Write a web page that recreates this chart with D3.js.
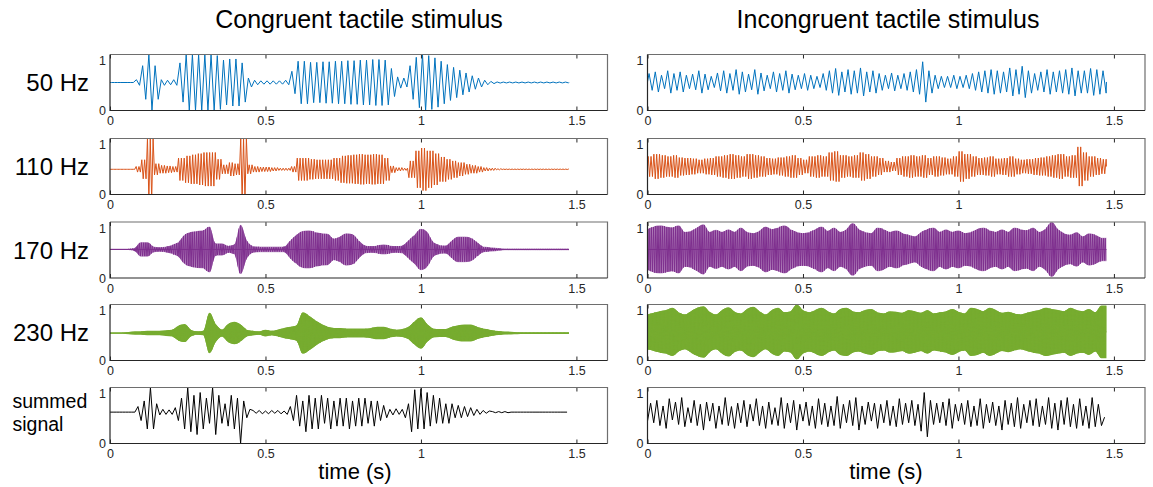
<!DOCTYPE html>
<html>
<head>
<meta charset="utf-8">
<script src="https://cdn.jsdelivr.net/npm/d3@7"></script>
<style>
  body { margin: 0; background: #fff; }
  text { font-family: "Liberation Sans", Arial, sans-serif; }
</style>
</head>
<body>
<div id="chart"></div>
<script>
// ---- data ----
var columnTitles = ["Congruent tactile stimulus", "Incongruent tactile stimulus"];
var rowLabels = ["50 Hz", "110 Hz", "170 Hz", "230 Hz", "summed signal"];
var carrierHz = [50, 110, 170, 230];
var xTicks = [0, 0.5, 1, 1.5];
var yTicks = [0, 1];
var envStep = 0.02;     // envelope samples every 20 ms
var peakStep = 0.01;    // summed signal peaks every 10 ms
var signalEnd = 1.476;

// resting level of each trace
var congBase = [0.5, 0.45, 0.51, 0.49, 0.56];
var incBase = [0.51, 0.5, 0.51, 0.51, 0.52];

// envelope (half peak-to-peak) at t = 0, 0.02, ... 1.46
var cong50 = [0,0,0,0,0.05,0.3,0.5,0.3,0.05,0.04,
  0.05,0.35,0.5,0.5,0.5,0.5,0.5,0.48,0.4,0.42,
  0.42,0.35,0.08,0.04,0.03,0.03,0.03,0.03,0.04,0.2,
  0.38,0.38,0.36,0.36,0.37,0.37,0.38,0.38,0.39,0.39,
  0.4,0.4,0.41,0.41,0.4,0.25,0.1,0.08,0.3,0.45,
  0.5,0.48,0.44,0.38,0.32,0.27,0.22,0.17,0.12,0.08,
  0.04,0.02,0.01,0.008,0.008,0.008,0.008,0.008,0.008,0.008,
  0.008,0.008,0.008,0.008];
var cong110 = [0,0,0,0,0.05,0.17,0.55,0.1,0.07,0.06,
  0.05,0.2,0.24,0.26,0.28,0.3,0.3,0.18,0.08,0.12,
  0.1,0.55,0.08,0.05,0.04,0.04,0.03,0.02,0.02,0.05,
  0.2,0.2,0.18,0.17,0.17,0.17,0.2,0.24,0.25,0.26,
  0.27,0.26,0.27,0.26,0.2,0.06,0.03,0.02,0.15,0.33,
  0.38,0.33,0.28,0.22,0.18,0.15,0.12,0.09,0.07,0.05,
  0.03,0.02,0.01,0.004,0.004,0.004,0.004,0.004,0.004,0.004,
  0.004,0.004,0.004,0.004];
var cong170 = [0,0,0,0,0.02,0.12,0.12,0.04,0.03,0.04,
  0.07,0.12,0.25,0.3,0.32,0.33,0.4,0.1,0.1,0.05,
  0.08,0.43,0.15,0.05,0.04,0.04,0.04,0.04,0.04,0.15,
  0.25,0.32,0.33,0.3,0.28,0.27,0.18,0.22,0.28,0.26,
  0.15,0.06,0.05,0.06,0.08,0.06,0.05,0.06,0.15,0.25,
  0.36,0.3,0.12,0.07,0.06,0.15,0.22,0.22,0.2,0.12,
  0.04,0.03,0.02,0.01,0.004,0.004,0.004,0.004,0.004,0.004,
  0.004,0.004,0.004,0.004];
var cong230 = [0,0,0,0.01,0.02,0.02,0.03,0.03,0.03,0.04,
  0.05,0.12,0.15,0.05,0.02,0.03,0.35,0.15,0.05,0.15,
  0.19,0.14,0.05,0.03,0.02,0.05,0.03,0.05,0.08,0.1,
  0.13,0.36,0.3,0.22,0.15,0.1,0.08,0.08,0.07,0.07,
  0.07,0.07,0.08,0.1,0.1,0.07,0.05,0.06,0.1,0.2,
  0.27,0.15,0.07,0.06,0.06,0.1,0.13,0.14,0.14,0.1,
  0.07,0.05,0.03,0.02,0.015,0.01,0.004,0.004,0.004,0.004,
  0.004,0.004,0.004,0.004];

var inc50 = [0.15,0.18,0.12,0.2,0.15,0.18,0.12,0.14,0.2,0.14,
  0.1,0.16,0.2,0.15,0.22,0.18,0.14,0.22,0.16,0.12,
  0.18,0.15,0.2,0.14,0.12,0.15,0.12,0.1,0.15,0.2,
  0.24,0.18,0.22,0.2,0.25,0.18,0.2,0.15,0.12,0.16,
  0.12,0.15,0.18,0.22,0.36,0.2,0.12,0.1,0.1,0.12,
  0.1,0.12,0.15,0.18,0.2,0.22,0.2,0.18,0.25,0.22,
  0.28,0.2,0.15,0.18,0.22,0.18,0.2,0.22,0.25,0.2,
  0.2,0.24,0.22,0.2];
var inc110 = [0.18,0.22,0.2,0.18,0.2,0.16,0.15,0.14,0.12,0.14,
  0.15,0.18,0.2,0.22,0.2,0.18,0.22,0.2,0.18,0.15,
  0.14,0.16,0.18,0.2,0.15,0.12,0.18,0.2,0.18,0.25,
  0.27,0.2,0.18,0.2,0.25,0.22,0.18,0.15,0.1,0.08,
  0.15,0.18,0.2,0.18,0.2,0.15,0.18,0.16,0.14,0.18,
  0.27,0.22,0.18,0.15,0.16,0.18,0.14,0.15,0.18,0.14,
  0.12,0.13,0.15,0.16,0.18,0.2,0.22,0.18,0.2,0.35,
  0.25,0.18,0.15,0.13];
var inc170 = [0.35,0.4,0.42,0.4,0.38,0.42,0.3,0.32,0.38,0.44,
  0.3,0.34,0.3,0.35,0.3,0.38,0.3,0.28,0.32,0.4,
  0.35,0.38,0.42,0.35,0.3,0.28,0.3,0.35,0.4,0.32,
  0.38,0.3,0.35,0.46,0.35,0.3,0.28,0.38,0.35,0.3,
  0.33,0.28,0.25,0.22,0.3,0.35,0.38,0.3,0.35,0.3,
  0.33,0.28,0.3,0.35,0.38,0.33,0.3,0.35,0.3,0.38,
  0.35,0.33,0.38,0.3,0.36,0.48,0.35,0.28,0.25,0.3,
  0.22,0.28,0.25,0.2];
var inc230 = [0.3,0.33,0.36,0.38,0.42,0.34,0.3,0.36,0.42,0.45,
  0.35,0.3,0.38,0.43,0.35,0.32,0.4,0.44,0.36,0.3,
  0.38,0.42,0.34,0.36,0.48,0.38,0.34,0.38,0.42,0.36,
  0.32,0.4,0.42,0.36,0.34,0.38,0.4,0.34,0.32,0.36,
  0.35,0.33,0.38,0.36,0.33,0.38,0.32,0.34,0.36,0.4,
  0.35,0.32,0.42,0.4,0.36,0.42,0.38,0.33,0.35,0.32,
  0.3,0.33,0.36,0.38,0.42,0.4,0.38,0.36,0.42,0.38,
  0.36,0.4,0.34,0.46];

// summed signal: signed peak deviations at t = 0, 0.01, ... 1.47
var congSum = [0,0,0,0,0,0,0,0,0,
  0.1,-0.15,0.2,-0.3,0.44,-0.3,0.15,-0.05,0.05,-0.04,0.04,-0.04,0.08,-0.15,0.25,-0.3,0.44,-0.35,0.3,-0.4,
  0.35,-0.3,0.25,-0.2,0.44,-0.4,0.3,-0.2,0.15,-0.25,0.3,-0.3,0.25,-0.56,0.2,-0.1,0.05,
  0.03,-0.02,0.03,-0.03,0.02,-0.03,0.03,-0.02,0.03,-0.03,0.02,-0.04,
  0.1,-0.15,0.3,-0.25,0.2,-0.35,0.3,-0.3,0.25,-0.3,0.3,-0.2,0.25,-0.3,0.2,-0.25,
  0.25,-0.25,0.25,-0.3,0.2,-0.25,0.25,-0.25,0.25,-0.2,0.2,-0.25,0.2,-0.15,0.12,-0.1,
  0.05,-0.05,0.06,-0.04,0.05,-0.1,0.15,-0.35,0.4,-0.3,0.42,-0.3,0.35,-0.25,0.3,-0.2,0.25,
  -0.2,0.15,-0.2,0.15,-0.1,0.12,-0.1,0.1,-0.08,0.08,-0.06,0.05,-0.04,0.03,-0.02,0.02,
  0.01,-0.01,0.01,-0.01,0.01,-0.01,
  0,0,0,0,0,0,0,0,0,0,0,0,0,0,0,0,0,0,0];
var incSum = [-0.12,0.2,-0.15,0.25,-0.2,0.15,-0.25,0.28,-0.1,0.22,-0.18,0.3,-0.22,0.12,-0.15,0.25,-0.2,0.18,-0.28,0.22,
  -0.12,0.2,-0.25,0.15,-0.18,0.3,-0.2,0.14,-0.25,0.2,-0.15,0.25,-0.22,0.18,-0.12,0.28,-0.2,0.15,-0.25,0.22,
  -0.18,0.12,-0.2,0.3,-0.25,0.2,-0.15,0.25,-0.28,0.18,-0.12,0.22,-0.2,0.15,-0.25,0.28,-0.18,0.2,-0.22,0.15,
  -0.2,0.32,-0.25,0.18,-0.15,0.25,-0.2,0.3,-0.28,0.15,-0.18,0.22,-0.12,0.2,-0.25,0.18,-0.15,0.25,-0.2,0.15,
  -0.22,0.28,-0.18,0.2,-0.15,0.25,-0.2,0.18,-0.3,0.39,-0.4,0.25,-0.18,0.2,-0.15,0.22,-0.2,0.28,-0.25,0.18,
  -0.12,0.2,-0.18,0.25,-0.22,0.15,-0.2,0.28,-0.25,0.18,-0.15,0.22,-0.2,0.15,-0.28,0.25,-0.18,0.2,-0.22,0.3,
  -0.25,0.18,-0.15,0.25,-0.2,0.28,-0.22,0.15,-0.18,0.3,-0.25,0.2,-0.28,0.25,-0.18,0.3,-0.22,0.18,-0.25,0.28,
  -0.2,0.15,-0.25,0.3,-0.22,0.18,-0.2,-0.05];

var colors = ["#0072BD", "#D95319", "#7E2F8E", "#77AC30", "#000000"];
// how solid the dense carriers look (170 Hz, 230 Hz)
var denseFill = [0, 0, 0.45, 1, 0];

// ---- layout ----
var width = 1153, height = 487;
var colLeft = [110, 647.5], panelW = 497.5;
var rowTop = [54.5, 138.5, 222, 304.5, 387.5], panelH = 56;

var svg = d3.select("#chart").append("svg")
    .attr("width", width)
    .attr("height", height);
var defs = svg.append("defs");

var x = d3.scaleLinear().domain([0, 1.6]).range([0, panelW]);
var y = d3.scaleLinear().domain([0, 1]).range([panelH, 0]);

// alternating peaks of a carrier under a stepped envelope;
// "wide" takes the larger neighbour so a smooth clip can trim it
function carrierPeaks(env, hz, wide) {
  var half = 1 / (2 * hz), pts = [[0, 0]];
  for (var k = 0; (k + 0.5) * half < signalEnd; k++) {
    var t = (k + 0.5) * half;
    var i = Math.min(Math.floor(t / envStep), env.length - 1);
    var a = wide ? Math.max(env[i], env[Math.min(i + 1, env.length - 1)]) : env[i];
    pts.push([t, k % 2 === 0 ? a : -a]);
  }
  pts.push([signalEnd, 0]);
  return pts;
}

function sumPeaks(vals) {
  return vals.map(function(v, i) { return [i * peakStep, v]; });
}

function envPoints(env) {
  var pts = env.map(function(a, i) { return [i * envStep, a]; });
  pts.push([signalEnd, env[env.length - 1]]);
  return pts;
}

var panels = [
  {col: 0, row: 0, base: congBase[0], env: cong50},
  {col: 0, row: 1, base: congBase[1], env: cong110},
  {col: 0, row: 2, base: congBase[2], env: cong170, dense: true},
  {col: 0, row: 3, base: congBase[3], env: cong230, dense: true},
  {col: 0, row: 4, base: congBase[4], peaks: congSum},
  {col: 1, row: 0, base: incBase[0], env: inc50},
  {col: 1, row: 1, base: incBase[1], env: inc110},
  {col: 1, row: 2, base: incBase[2], env: inc170, dense: true},
  {col: 1, row: 3, base: incBase[3], env: inc230, dense: true},
  {col: 1, row: 4, base: incBase[4], peaks: incSum}
];

defs.append("clipPath")
    .attr("id", "clip")
  .append("rect")
    .attr("width", panelW)
    .attr("height", panelH);

panels.forEach(function(p, n) {
  var g = svg.append("g")
      .attr("transform", "translate(" + colLeft[p.col] + "," + rowTop[p.row] + ")");

  var line = d3.line()
      .x(function(d) { return x(d[0]); })
      .y(function(d) { return y(p.base + d[1]); });

  var pts = p.peaks ? sumPeaks(p.peaks) : carrierPeaks(p.env, carrierHz[p.row], p.dense);
  var clipId = "clip";
  var holder = g;

  if (p.dense) {
    // smooth envelope outline used to trim the dense carrier
    var envArea = d3.area()
        .curve(d3.curveMonotoneX)
        .x(function(d) { return x(d[0]); })
        .y0(function(d) { return y(p.base - d[1]) + 0.6; })
        .y1(function(d) { return y(p.base + d[1]) - 0.6; });
    clipId = "env" + n;
    defs.append("clipPath")
        .attr("id", clipId)
      .append("path")
        .attr("d", envArea(envPoints(p.env)));
    holder = g.append("g").attr("clip-path", "url(#clip)");
    holder.append("path")
        .datum([[0, 0], [signalEnd, 0]])
        .attr("d", line)
        .style("fill", "none")
        .style("stroke", colors[p.row])
        .style("stroke-width", 1);
    holder.append("path")
        .datum(envPoints(p.env))
        .attr("d", envArea)
        .style("fill", colors[p.row])
        .style("fill-opacity", denseFill[p.row])
        .style("stroke", "none");
  }

  holder.append("path")
      .datum(pts)
      .attr("clip-path", "url(#" + clipId + ")")
      .attr("d", line)
      .style("fill", "none")
      .style("stroke", colors[p.row])
      .style("stroke-width", 1)
      .style("stroke-linejoin", "round");

  // inward ticks, top and bottom
  g.append("g")
      .attr("transform", "translate(0," + panelH + ")")
      .call(d3.axisBottom(x).tickValues(xTicks).tickSizeInner(-4).tickSizeOuter(0)
        .tickPadding(6).tickFormat(function(d) { return d; }))
      .call(function(a) {
        a.select(".domain").remove();
        a.selectAll("line").attr("stroke", "#262626");
        a.selectAll("text").style("font-size", "12.5px").attr("fill", "#262626");
      });
  g.append("g")
      .call(d3.axisTop(x).tickValues(xTicks).tickSizeInner(-4).tickSizeOuter(0).tickFormat(""))
      .call(function(a) {
        a.select(".domain").remove();
        a.selectAll("line").attr("stroke", "#262626");
      });

  // y labels 0 / 1
  g.selectAll(".ylab")
      .data(yTicks)
      .enter().append("text")
      .attr("x", -4)
      .attr("y", function(d) { return d === 1 ? y(d) + 10.5 : y(d) + 4.5; })
      .attr("text-anchor", "end")
      .style("font-size", "12.5px")
      .attr("fill", "#262626")
      .text(function(d) { return d; });

  // box
  g.append("path")
      .attr("d", "M0,0H" + panelW + "V" + panelH)
      .style("fill", "none").style("stroke", "#6e6e6e").style("stroke-width", 1.2);
  g.append("path")
      .attr("d", "M0,0V" + panelH + "H" + panelW)
      .style("fill", "none").style("stroke", "#262626").style("stroke-width", 1.2);
});

// column titles
svg.selectAll(".title")
    .data(columnTitles)
    .enter().append("text")
    .attr("x", function(d, i) { return i === 0 ? 359 : 888; })
    .attr("y", 28)
    .attr("text-anchor", "middle")
    .style("font-size", "25px")
    .text(function(d) { return d; });

// row labels
rowLabels.slice(0, 4).forEach(function(lab, i) {
  svg.append("text")
      .attr("x", 89)
      .attr("y", rowTop[i] + panelH / 2 + 8.5)
      .attr("text-anchor", "end")
      .style("font-size", "24px")
      .text(lab);
});
var summed = svg.append("text")
    .attr("x", 12.5)
    .attr("y", 408)
    .style("font-size", "19.5px");
summed.append("tspan").attr("x", 12.5).text(rowLabels[4].split(" ")[0]);
summed.append("tspan").attr("x", 12.5).attr("dy", 23).text(rowLabels[4].split(" ")[1]);

// x axis titles
[355, 886].forEach(function(cx) {
  svg.append("text")
      .attr("x", cx)
      .attr("y", 479)
      .attr("text-anchor", "middle")
      .style("font-size", "22px")
      .text("time (s)");
});
</script>
</body>
</html>
